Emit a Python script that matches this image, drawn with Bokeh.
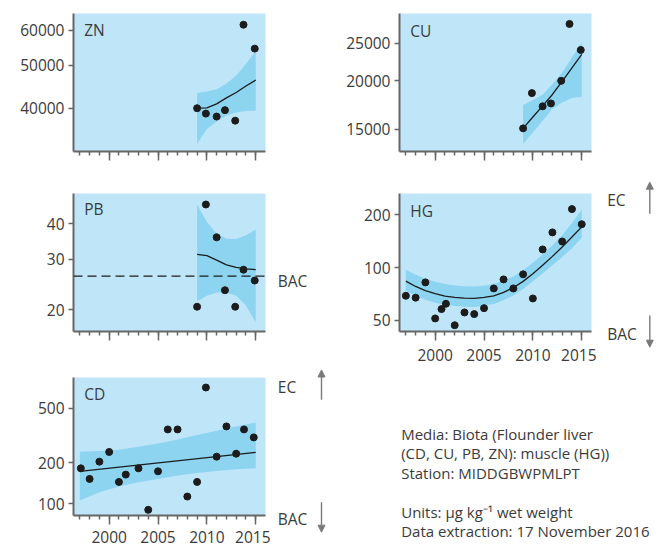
from bokeh.plotting import figure
from bokeh.models import (Range1d, FixedTicker, NumeralTickFormatter, Label, Span,
                          Arrow, NormalHead, GlobalInlineStyleSheet, LogScale)
from bokeh.layouts import row, column
from bokeh.embed import file_html
from bokeh.resources import INLINE

# ---------------- data ----------------
MAJOR_YEARS = [2000, 2005, 2010, 2015]
MINOR_YEARS = list(range(1997, 2016))

# flounder liver samples (ZN, CU, PB)
LIVER_YEARS = [2009.0, 2009.9, 2011.0, 2011.85, 2012.9, 2013.75, 2014.9]
LIVER_FIT_YEARS = [2009, 2010, 2011, 2012, 2013, 2014, 2015]

ZN_VALUES = [40000, 38900, 38300, 39600, 37500, 61700, 54500]
ZN_FIT = [40000, 40050, 40900, 42200, 43400, 44900, 46300]
ZN_UPPER = [43300, 43600, 44150, 45400, 47400, 50400, 53700]
ZN_LOWER = [33200, 35900, 37300, 38500, 39100, 39400, 39470]

CU_VALUES = [15100, 18600, 17200, 17500, 20000, 28000, 24000]
CU_FIT = [15100, 16150, 17250, 18450, 19950, 21600, 23400]
CU_UPPER = [17340, 17850, 18420, 19620, 21010, 22960, 25100]
CU_LOWER = [13760, 14740, 15790, 16930, 17600, 18060, 18200]

PB_VALUES = [20.5, 46.6, 35.8, 23.4, 20.5, 27.6, 25.3]
PB_FIT = [31.2, 30.9, 29.8, 28.7, 28.1, 27.8, 27.6]
PB_UPPER = [46.7, 40.5, 36.9, 35.4, 35.3, 36.4, 38.1]
PB_LOWER = [21.4, 22.4, 23.0, 23.0, 22.4, 20.7, 18.1]
PB_BAC = 26.2

HG_YEARS = [1997, 1998, 1999, 2000, 2000.65, 2001.1, 2002, 2003, 2004, 2005,
            2006, 2007, 2008, 2009, 2010, 2011, 2012, 2013, 2014, 2015]
HG_VALUES = [69.0, 67.3, 82.3, 51.2, 57.9, 62.1, 46.8, 55.4, 54.2, 58.6,
             76.0, 85.6, 76.0, 91.5, 66.6, 127, 159, 141, 216, 177]
HG_FIT_YEARS = list(range(1997, 2016))
HG_FIT = [83.7, 78.0, 73.8, 70.9, 68.7, 67.5, 66.9, 66.6, 67.5, 69.0,
          72.1, 76.7, 83.4, 92.3, 103, 115.9, 131.1, 149.6, 171]
HG_UPPER = [97.3, 91, 86.5, 83, 80.5, 79, 78.3, 78, 78.8, 80.5,
            84, 89, 96.5, 106.5, 119, 134, 153, 180, 215]
HG_LOWER = [73.5, 69, 65.5, 63, 61.3, 60.3, 59.8, 59.6, 60.5, 62,
            65, 69.3, 75.5, 83.5, 92.5, 103, 115, 129, 148]

CD_YEARS = [1997.1, 1998, 1999, 2000, 2001, 2001.7, 2003, 2004, 2005, 2006,
            2007, 2008, 2009.0, 2009.9, 2011.0, 2012.0, 2013.0, 2013.8, 2014.8]
CD_VALUES = [181.6, 152.0, 203.2, 239.1, 144.5, 163.4, 181.6, 90.4, 172.7, 349.2,
             349.2, 113.0, 144.5, 706.3, 220.9, 367.3, 232.3, 349.2, 305.4]
CD_FIT_YEARS = [1997, 2015]
CD_FIT = [172.7, 237.5]
CD_BAND_YEARS = [1997, 1999, 2001, 2003, 2005, 2007, 2009, 2011, 2013, 2015]
CD_UPPER = [240.3, 243.2, 248.5, 261.3, 276.2, 295.3, 318.0, 341.8, 367.3, 392.7]
CD_LOWER = [105.6, 121.4, 133.6, 143.6, 152.0, 160.7, 168.1, 173.9, 178.6, 181.6]

INFO_LINES = ["Media: Biota (Flounder liver",
              "(CD, CU, PB, ZN): muscle (HG))",
              "Station: MIDDGBWPMLPT",
              "",
              "Units: \u00b5g kg\u207b\u00b9 wet weight",
              "Data extraction: 17 November 2016"]

# ---------------- style ----------------
FONT = "Open Sans"
FS = "15.5px"
TXT = "#3b3b3b"
AXC = "#666666"
BG = "#bfe6f8"
BAND = "#8dd4f1"
PT = "#1c1c1c"
ARR = "#7a7a7a"
X_RANGE = (1996.35, 2016.0)
FW, FH = 192, 138


def make_panel(name, name_y, y_range, y_ticks, pts_x, pts_y, fit_x, fit_y,
               band_x, lo, hi, x_labels, borders, standoff=8):
    bl, br, bt, bb = borders
    p = figure(width=bl + FW + br, height=bt + FH + bb,
               x_range=Range1d(*X_RANGE), y_range=Range1d(*y_range),
               y_axis_type="log", output_backend="svg", toolbar_location=None,
               min_border_left=bl, min_border_right=br,
               min_border_top=bt, min_border_bottom=bb)
    p.xgrid.visible = False
    p.ygrid.visible = False
    p.outline_line_color = None
    p.background_fill_color = BG
    p.border_fill_color = "white"

    xa = p.xaxis[0]
    xa.ticker = FixedTicker(ticks=MAJOR_YEARS, minor_ticks=MINOR_YEARS)
    xa.axis_line_color = AXC
    xa.axis_line_width = 2
    xa.major_tick_line_color = AXC
    xa.minor_tick_line_color = AXC
    xa.major_tick_line_width = 1.5
    xa.minor_tick_line_width = 1.5
    xa.major_tick_in = 0
    xa.major_tick_out = 9
    xa.minor_tick_in = 0
    xa.minor_tick_out = 4
    xa.major_label_text_font = FONT
    xa.major_label_text_font_size = FS
    xa.major_label_text_color = TXT
    xa.major_label_standoff = standoff
    if not x_labels:
        xa.major_label_overrides = {t: "" for t in MAJOR_YEARS}
        xa.major_label_standoff = 0

    ya = p.yaxis[0]
    ya.ticker = FixedTicker(ticks=y_ticks)
    ya.formatter = NumeralTickFormatter(format="0")
    ya.axis_line_color = AXC
    ya.axis_line_width = 2
    ya.major_tick_line_color = AXC
    ya.major_tick_line_width = 1.5
    ya.major_tick_in = 0
    ya.major_tick_out = 5
    ya.minor_tick_in = 0
    ya.minor_tick_out = 0
    ya.major_label_standoff = 4
    ya.major_label_text_font = FONT
    ya.major_label_text_font_size = FS
    ya.major_label_text_color = TXT

    p.varea(x=band_x, y1=lo, y2=hi, fill_color=BAND)
    p.line(fit_x, fit_y, line_color=PT, line_width=1.3)
    p.scatter(pts_x, pts_y, marker="circle", size=7, fill_color=PT, line_color=PT)

    p.add_layout(Label(x=1997.45, y=name_y, text=name, text_font=FONT,
                       text_font_size=FS, text_color=TXT, text_baseline="middle"))
    return p


def side_figure(w, h, y_range=None, bt=0, bb=0):
    """A blank strip next to a panel, for the EC / BAC marks and notes."""
    kw = dict(width=w, height=h, x_range=Range1d(0, w),
              x_axis_type=None, y_axis_type=None, toolbar_location=None,
              output_backend="svg", min_border_left=0, min_border_right=0,
              min_border_top=bt, min_border_bottom=bb, outline_line_color=None)
    if y_range is None:
        # pixel coordinates, measured from the strip's top-left corner
        s = figure(y_range=Range1d(h, 0), frame_align=False, **kw)
    else:
        s = figure(y_range=y_range, **kw)
        s.y_scale = LogScale()
    s.xgrid.visible = False
    s.ygrid.visible = False
    return s


def side_label(p, x, y, text):
    p.add_layout(Label(x=x, y=y, text=text, text_font=FONT, text_font_size=FS,
                       text_color=TXT, text_baseline="middle"))


def arrow(p, x, y0, y1):
    p.add_layout(Arrow(x_start=x, y_start=y0, x_end=x, y_end=y1,
                       line_color=ARR, line_width=1.4,
                       end=NormalHead(size=7, fill_color=ARR, line_color=ARR)))


# ---- row 1 ----
zn = make_panel("ZN", 59900, (31950, 65400), [40000, 50000, 60000],
                LIVER_YEARS, ZN_VALUES, LIVER_FIT_YEARS, ZN_FIT,
                LIVER_FIT_YEARS, ZN_LOWER, ZN_UPPER, False, (73, 70, 13, 20))
cu = make_panel("CU", 26930, (13170, 29780), [15000, 20000, 25000],
                LIVER_YEARS, CU_VALUES, LIVER_FIT_YEARS, CU_FIT,
                LIVER_FIT_YEARS, CU_LOWER, CU_UPPER, False, (64, 64, 13, 20))

# ---- row 2 ----
pb = make_panel("PB", 44.9, (16.8, 50.9), [20, 30, 40],
                LIVER_YEARS, PB_VALUES, LIVER_FIT_YEARS, PB_FIT,
                LIVER_FIT_YEARS, PB_LOWER, PB_UPPER, False, (73, 5, 22, 37))
pb.add_layout(Span(location=PB_BAC, dimension="width", line_color=PT,
                   line_width=1.3, line_dash="9 5"))
pb_side = side_figure(65, 22 + FH + 37, y_range=pb.y_range, bt=22, bb=37)
side_label(pb_side, 7.3, 25.3, "BAC")

hg = make_panel("HG", 210, (43.1, 265.3), [50, 100, 200],
                HG_YEARS, HG_VALUES, HG_FIT_YEARS, HG_FIT,
                HG_FIT_YEARS, HG_LOWER, HG_UPPER, True, (64, 5, 22, 37))
hg_side = side_figure(59, 22 + FH + 37)
side_label(hg_side, 10.7, 28.3, "EC")
side_label(hg_side, 10.7, 162.3, "BAC")
arrow(hg_side, 53.3, 42.3, 10.7)
arrow(hg_side, 53.3, 144.0, 175.7)

# ---- row 3 ----
cd = make_panel("CD", 628, (82.2, 835.6), [100, 200, 500],
                CD_YEARS, CD_VALUES, CD_FIT_YEARS, CD_FIT,
                CD_BAND_YEARS, CD_LOWER, CD_UPPER, True, (73, 5, 9, 38), standoff=6)
cd_side = side_figure(65, 9 + FH + 38)
side_label(cd_side, 7.3, 18.0, "EC")
side_label(cd_side, 7.3, 150.3, "BAC")
arrow(cd_side, 51.0, 31.3, 1.5)
arrow(cd_side, 51.0, 133.7, 163.7)

info = side_figure(320, 9 + FH + 38)
for i, line in enumerate(INFO_LINES):
    if line:
        info.add_layout(Label(x=65.7, y=65.3 + i * 19.5, text=line, text_font=FONT,
                              text_font_size="15px", text_color=TXT,
                              text_baseline="middle"))

css = GlobalInlineStyleSheet(css="html, body { margin: 0; padding: 0; overflow: hidden; }")
root = column(row(zn, cu), row(pb, pb_side, hg, hg_side), row(cd, cd_side, info),
              stylesheets=[css])

open("out.html", "w").write(file_html(root, INLINE))
